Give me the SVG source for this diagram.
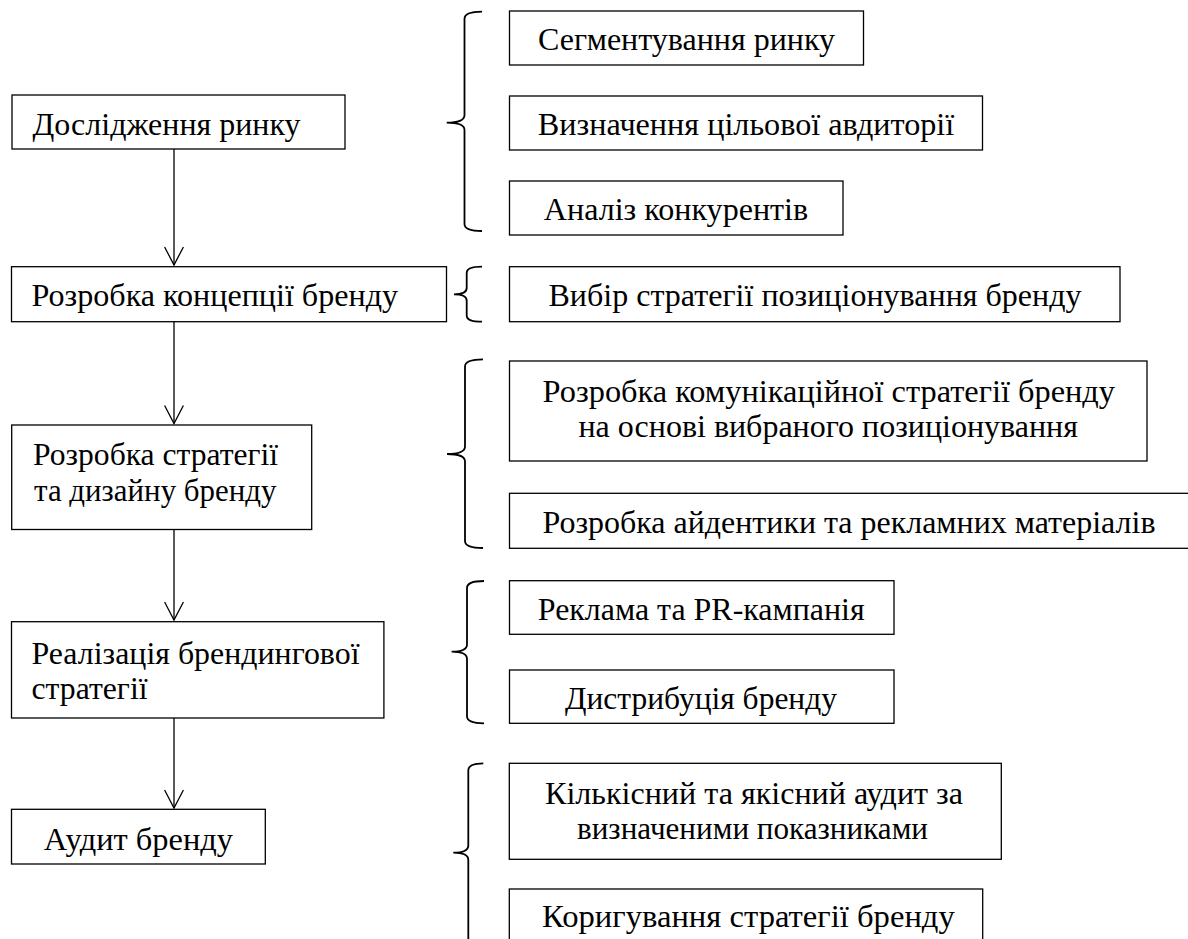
<svg xmlns="http://www.w3.org/2000/svg" width="1188" height="939" viewBox="0 0 1188 939">
<style>
.box{fill:#fff;stroke:#000;stroke-width:1.3}
.t{font-family:'Liberation Serif','Times New Roman',serif;font-size:32px;fill:#000}
.c{text-anchor:middle}
.conn{fill:none;stroke:#000;stroke-width:1.3}
.brace{fill:none;stroke:#000;stroke-width:1.8}
</style>
<defs>
<marker id="ah" markerUnits="userSpaceOnUse" viewBox="-20 -11 22 22" refX="0" refY="0" markerWidth="22" markerHeight="22" orient="auto">
<path d="M-18,-9.4 L0,0 L-18,9.4" fill="none" stroke="#000" stroke-width="1.3"/>
</marker>
</defs>
<rect width="1188" height="939" fill="#fff"/>
<g id="connectors">
<line class="conn" x1="174" y1="149" x2="174" y2="265" marker-end="url(#ah)"/>
<line class="conn" x1="174" y1="322" x2="174" y2="423.5" marker-end="url(#ah)"/>
<line class="conn" x1="174" y1="530" x2="174" y2="620" marker-end="url(#ah)"/>
<line class="conn" x1="174" y1="718" x2="174" y2="808" marker-end="url(#ah)"/>
<path class="brace" d="M482,11.7 Q464.5,11.7 464.5,19 L464.5,115 Q464.5,122.7 446.7,122.7 Q464.5,122.7 464.5,130 L464.5,224 Q464.5,231 482,231"/>
<path class="brace" d="M482,266.7 Q466.7,266.7 466.7,273 L466.7,288 Q466.7,294.3 454,294.3 Q466.7,294.3 466.7,300.6 L466.7,315.4 Q466.7,321.7 482,321.7"/>
<path class="brace" d="M483,359.3 Q465,359.3 465,366.5 L465,446.5 Q465,454 447,454 Q465,454 465,461.5 L465,541 Q465,548 483,548"/>
<path class="brace" d="M484,581 Q467,581 467,588 L467,644.5 Q467,651.7 451.6,651.7 Q467,651.7 467,659 L467,716.3 Q467,723.3 484,723.3"/>
<path class="brace" d="M483.3,763.3 Q468.3,763.3 468.3,770.5 L468.3,845.5 Q468.3,852.7 453.3,852.7 Q468.3,852.7 468.3,860 L468.3,945"/>
</g>
<g id="n-doslidzhennia">
<rect class="box" x="12" y="95" width="333" height="54"/>
<text class="t" x="32.5" y="135" textLength="268" lengthAdjust="spacingAndGlyphs">Дослідження ринку</text>
</g>
<g id="n-kontseptsiia">
<rect class="box" x="11.5" y="266.7" width="435" height="55"/>
<text class="t" x="31.5" y="306" textLength="366.5" lengthAdjust="spacingAndGlyphs">Розробка концепції бренду</text>
</g>
<g id="n-stratehiia-dyzain">
<rect class="box" x="11.7" y="425" width="300" height="104.5"/>
<text class="t" x="33" y="464.5" textLength="245" lengthAdjust="spacingAndGlyphs">Розробка стратегії</text>
<text class="t" x="34" y="500.5" textLength="242.5" lengthAdjust="spacingAndGlyphs">та дизайну бренду</text>
</g>
<g id="n-realizatsiia">
<rect class="box" x="11.5" y="621.7" width="372.4" height="96.3"/>
<text class="t" x="31.5" y="663.5" textLength="328" lengthAdjust="spacingAndGlyphs">Реалізація брендингової</text>
<text class="t" x="31.5" y="698.5" textLength="116" lengthAdjust="spacingAndGlyphs">стратегії</text>
</g>
<g id="n-audyt">
<rect class="box" x="11.5" y="809.3" width="253.8" height="54.7"/>
<text class="t c" x="138.4" y="850" textLength="189.4" lengthAdjust="spacingAndGlyphs">Аудит бренду</text>
</g>
<g id="n-seghmentuvannia">
<rect class="box" x="509.5" y="11" width="354" height="54"/>
<text class="t c" x="686.5" y="50" textLength="297" lengthAdjust="spacingAndGlyphs">Сегментування ринку</text>
</g>
<g id="n-tsilova-avdytoriia">
<rect class="box" x="509.5" y="96" width="473" height="54"/>
<text class="t c" x="746" y="135" textLength="416.5" lengthAdjust="spacingAndGlyphs">Визначення цільової авдиторії</text>
</g>
<g id="n-konkurenty">
<rect class="box" x="509.5" y="181" width="333.5" height="54"/>
<text class="t c" x="676" y="220" textLength="264.3" lengthAdjust="spacingAndGlyphs">Аналіз конкурентів</text>
</g>
<g id="n-pozytsionuvannia">
<rect class="box" x="509.5" y="266.7" width="610.5" height="55"/>
<text class="t c" x="815" y="306" textLength="533" lengthAdjust="spacingAndGlyphs">Вибір стратегії позиціонування бренду</text>
</g>
<g id="n-komunikatsiina">
<rect class="box" x="509.5" y="361" width="637.5" height="100"/>
<text class="t c" x="828.8" y="402" textLength="572.4" lengthAdjust="spacingAndGlyphs">Розробка комунікаційної стратегії бренду</text>
<text class="t c" x="828.2" y="436.5" textLength="499.5" lengthAdjust="spacingAndGlyphs">на основі вибраного позиціонування</text>
</g>
<g id="n-aidentyka">
<rect class="box" x="509.5" y="493.3" width="690" height="55"/>
<text class="t c" x="849" y="533" textLength="613" lengthAdjust="spacingAndGlyphs">Розробка айдентики та рекламних матеріалів</text>
</g>
<g id="n-reklama">
<rect class="box" x="509.5" y="580.7" width="384.5" height="53.6"/>
<text class="t c" x="701.2" y="620" textLength="326.8" lengthAdjust="spacingAndGlyphs">Реклама та PR-кампанія</text>
</g>
<g id="n-dystrybutsiia">
<rect class="box" x="509.5" y="670" width="384.5" height="53.3"/>
<text class="t c" x="701" y="708.5" textLength="272" lengthAdjust="spacingAndGlyphs">Дистрибуція бренду</text>
</g>
<g id="n-kilkisnyi-audyt">
<rect class="box" x="509.3" y="763.3" width="492" height="96"/>
<text class="t c" x="754" y="804" textLength="418" lengthAdjust="spacingAndGlyphs">Кількісний та якісний аудит за</text>
<text class="t c" x="752.5" y="839" textLength="351" lengthAdjust="spacingAndGlyphs">визначеними показниками</text>
</g>
<g id="n-koryhuvannia">
<rect class="box" x="509.3" y="889" width="473.4" height="60"/>
<text class="t c" x="748.4" y="927" textLength="412.7" lengthAdjust="spacingAndGlyphs">Коригування стратегії бренду</text>
</g>
</svg>
